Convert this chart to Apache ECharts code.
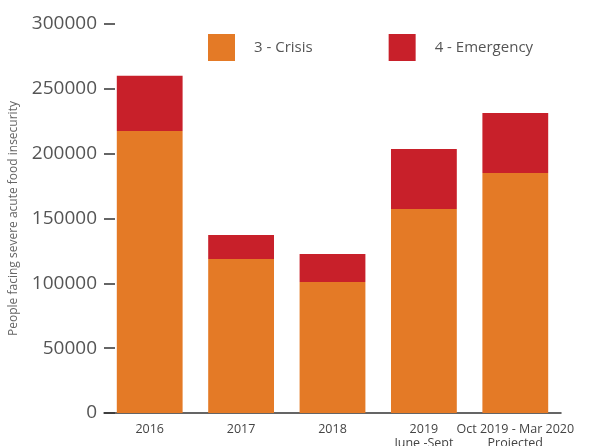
<!DOCTYPE html>
<html>
<head>
<meta charset="utf-8">
<style>
  html, body { margin: 0; padding: 0; background: #fff; }
  #chart { width: 602px; height: 446px; }
</style>
<script src="https://cdn.jsdelivr.net/npm/echarts@6/dist/echarts.min.js"></script>
</head>
<body>
<div id="chart"></div>
<script>
const categories = ["2016", "2017", "2018", "2019\nJune -Sept", "Oct 2019 - Mar 2020\nProjected"];
const crisis = [217500, 118700, 101000, 157300, 185000];
const emergency = [42500, 18600, 21600, 46300, 46300];
const yTicks = [0, 50000, 100000, 150000, 200000, 250000, 300000];

const font = "'Open Sans', 'Noto Sans', sans-serif";
const chart = echarts.init(document.getElementById("chart"));

chart.setOption({
  animation: false,
  textStyle: { fontFamily: font },
  legend: {
    top: 34,
    left: 208,
    padding: 0,
    itemWidth: 27,
    itemHeight: 27,
    itemGap: 76,
    icon: "rect",
    textStyle: { fontSize: 15, color: "#555", padding: [0, 0, 0, 14] },
    data: ["3 - Crisis", "4 - Emergency"],
  },
  grid: { left: 104, right: 41, top: 24, bottom: 33, outerBoundsMode: "none" },
  xAxis: {
    type: "category",
    data: categories,
    axisLine: { lineStyle: { color: "#333", width: 1.5 } },
    axisTick: { inside: true, length: 9, lineStyle: { color: "#333" } },
    axisLabel: { interval: 0, fontSize: 12.5, color: "#444", margin: 9, lineHeight: 14 },
  },
  yAxis: {
    type: "value",
    min: yTicks[0],
    max: yTicks[yTicks.length - 1],
    interval: 50000,
    name: "People facing severe acute food insecurity",
    nameLocation: "middle",
    nameGap: 84,
    nameTextStyle: { fontSize: 12, color: "#666" },
    axisLine: { show: false },
    axisTick: { show: true, inside: true, length: 11, lineStyle: { color: "#333", width: 1.5 } },
    splitLine: { show: false },
    axisLabel: {
      fontSize: 19,
      color: "#555",
      margin: 7,
      formatter: (v) => String(v),
    },
  },
  series: [
    {
      name: "3 - Crisis",
      type: "bar",
      stack: "total",
      barWidth: "72%",
      itemStyle: { color: "#E47A26" },
      data: crisis,
    },
    {
      name: "4 - Emergency",
      type: "bar",
      stack: "total",
      itemStyle: { color: "#C8202A" },
      data: emergency,
    },
  ],
});
</script>
</body>
</html>
